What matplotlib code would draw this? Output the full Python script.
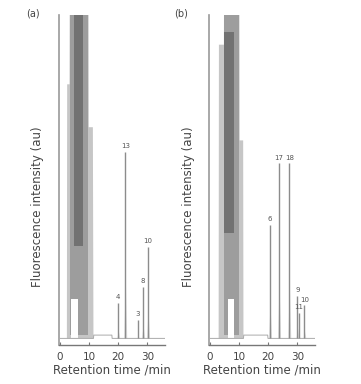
import numpy as np
import matplotlib.pyplot as plt

# ---- panel (a) ----
a_base_t = [0.2, 2.4, 11.5, 11.6, 17.8, 17.9, 36.0]
a_base_y = [0.02, 0.02, 0.02, 0.03, 0.03, 0.02, 0.02]
a_blob_t = [2.4, 2.5, 3.3, 3.4, 9.8, 9.9, 11.3, 11.5]
a_blob_top = [0.03, 0.79, 0.79, 1.2, 1.2, 0.66, 0.66, 0.03]
a_core_t = [3.4, 3.7, 3.7, 6.1, 6.1, 9.8]
a_core_low = [0.03, 0.03, 0.14, 0.14, 0.03, 0.03]
a_gap_t = [3.7, 6.1]
a_gap_top = [0.14, 0.14]
a_dark_t = [4.8, 7.9]
a_dark_low = [0.3, 0.3]
a_dark_high = [1.2, 1.2]
a_peak_t = [20.0, 22.4, 26.8, 28.5, 30.2]
a_peak_h = [0.127, 0.585, 0.076, 0.176, 0.297]
a_peak_lab = ["4", "13", "3", "8", "10"]

# ---- panel (b) ----
b_base_t = [0.2, 3.0, 11.5, 11.6, 19.8, 19.9, 36.0]
b_base_y = [0.02, 0.02, 0.02, 0.03, 0.03, 0.02, 0.02]
b_blob_t = [3.0, 3.1, 4.8, 4.9, 10.1, 10.2, 11.4, 11.5]
b_blob_top = [0.03, 0.91, 0.91, 1.2, 1.2, 0.62, 0.62, 0.03]
b_core_t = [4.9, 6.3, 6.3, 8.4, 8.4, 10.1]
b_core_low = [0.03, 0.03, 0.14, 0.14, 0.03, 0.03]
b_gap_t = [6.3, 8.4]
b_gap_top = [0.14, 0.14]
b_dark_t = [4.9, 8.4]
b_dark_low = [0.34, 0.34]
b_dark_high = [0.95, 0.95]
b_peak_t = [20.6, 23.7, 27.2, 30.0, 30.4, 32.4]
b_peak_h = [0.364, 0.55, 0.55, 0.15, 0.097, 0.12]
b_peak_lab = ["6", "17", "18", "9", "11", "10"]

ticks = [0, 10, 20, 30]

panels = [
    ("(a)", a_base_t, a_base_y, a_blob_t, a_blob_top, a_core_t, a_core_low, a_gap_t, a_gap_top,
     a_dark_t, a_dark_low, a_dark_high, a_peak_t, a_peak_h, a_peak_lab),
    ("(b)", b_base_t, b_base_y, b_blob_t, b_blob_top, b_core_t, b_core_low, b_gap_t, b_gap_top,
     b_dark_t, b_dark_low, b_dark_high, b_peak_t, b_peak_h, b_peak_lab),
]

fig = plt.figure(figsize=(3.61, 3.84), dpi=100)
lefts = [59 / 361, 209 / 361]
label_x = [33 / 361, 181 / 361]
ylab_x = [-0.14, -0.13]

for i, (tag, bt, by, blt, bltop, ct, cl, gt, gtop, dt, dl, dh, pt, ph, plab) in enumerate(panels):
    ax = fig.add_axes([lefts[i], 39 / 384, 106 / 361, 330 / 384])
    ax.set_xlim(-0.3, 36)
    ax.set_ylim(0, 1)

    ax.plot(bt, by, color="#aaaaaa", lw=0.7)
    # saturated solvent front
    ax.fill_between(blt, 0.02, bltop, color="#c6c6c6", lw=0)
    ax.fill_between(ct, cl, 1.2, color="#9d9d9d", lw=0)
    ax.fill_between(dt, dl, dh, color="#727272", lw=0)
    ax.fill_between(gt, 0.02, gtop, color="white", lw=0)

    # peaks
    for t, h, lab in zip(pt, ph, plab):
        ax.fill_between([t - 0.5, t, t + 0.5], 0.02, [0.02, h * 0.35, 0.02], color="#dcdcdc", lw=0)
        ax.vlines(t, 0.02, h, color="#8c8c8c", lw=1.0)
        ax.text(t, h + 0.008, lab, ha="center", va="bottom", fontsize=5, color="#555555")

    for s in ["top", "right"]:
        ax.spines[s].set_visible(False)
    ax.spines["left"].set_color("#999999")
    ax.spines["bottom"].set_color("#777777")
    ax.spines["left"].set_linewidth(1.2)
    ax.spines["bottom"].set_linewidth(1.0)
    ax.set_yticks([])
    ax.set_xticks(ticks)
    ax.tick_params(axis="x", direction="in", length=2, width=0.8, color="#777777",
                   labelsize=7.5, pad=5, labelcolor="#444444")
    ax.set_xlabel("Retention time /min", fontsize=8.5, color="#444444", labelpad=1)
    ax.set_ylabel("Fluorescence intensity (au)", fontsize=8.5, color="#444444")
    ax.yaxis.set_label_coords(ylab_x[i], 0.42)

    fig.text(label_x[i], 1 - 14 / 384, tag, fontsize=7, color="#444444",
             ha="center", va="center")

fig.savefig("out.png", dpi=100)
